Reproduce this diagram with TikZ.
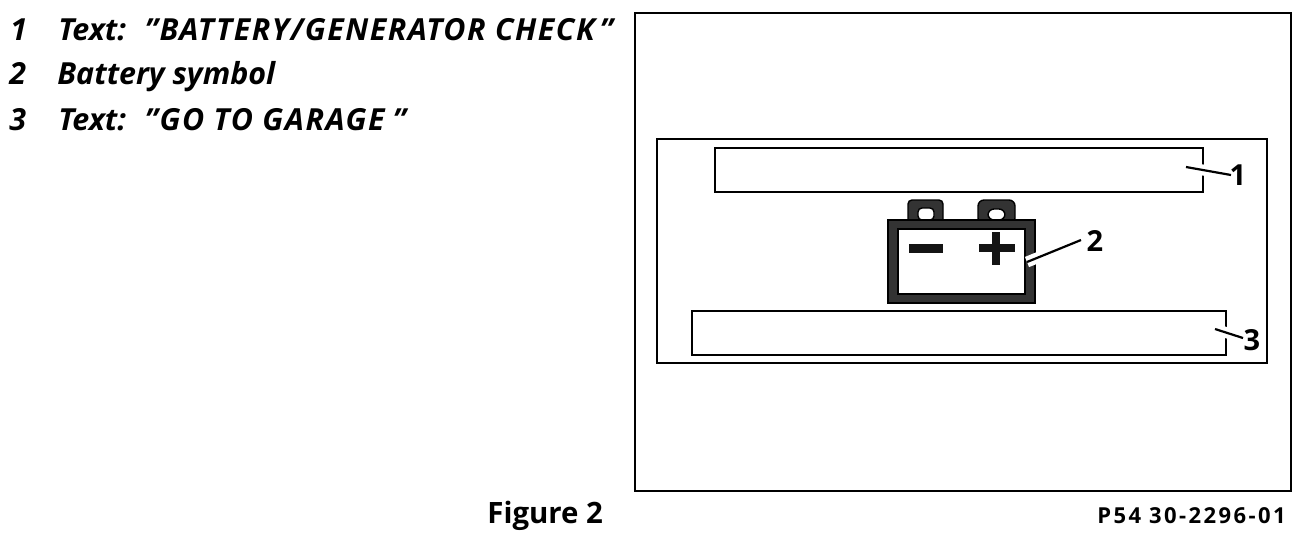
\documentclass[tikz,border=0pt]{standalone}
\usepackage{fontspec}
\setmainfont{Open Sans}
\tikzset{
  x=0.5pt,y=-0.5pt,
  frame/.style={draw=black,line width=1.4pt,fill=none,inner sep=0pt,outer sep=0pt},
  slot/.style={draw=black,line width=1.2pt,fill=none,inner sep=0pt,outer sep=0pt},
  band/.style={draw=black,line width=0.7pt,fill=black!80,inner sep=0pt,outer sep=0pt},
  hole/.style={draw=black,line width=0.7pt,fill=white,inner sep=0pt,outer sep=0pt},
  sign/.style={fill=black!92,draw=none,inner sep=0pt,outer sep=0pt},
  leader/.style={draw=black,line width=1.1pt,preaction={draw=white,line width=5.5pt}},
  callout/.style={inner sep=0pt,font=\fontsize{14.5pt}{16pt}\selectfont\bfseries},
  legend/.style={anchor=base west,inner sep=0pt,font=\fontsize{15.2pt}{17pt}\selectfont\bfseries\itshape},
  caption/.style={anchor=base west,inner sep=0pt,font=\fontsize{14.7pt}{16pt}\selectfont\bfseries},
  partno/.style={anchor=base east,inner sep=0pt,font=\fontsize{11pt}{12pt}\selectfont\bfseries\addfontfeature{LetterSpace=11}},
}
\newcommand{\boxat}[6]{\node[#2,anchor=north west,minimum width=#5*0.5pt-#3*0.5pt,minimum height=#6*0.5pt-#4*0.5pt] (#1) at (#3,#4) {};}
\newcommand{\capsp}[1]{{\addfontfeature{LetterSpace=5}#1}}
\begin{document}
\begin{tikzpicture}
\useasboundingbox (0,0) rectangle (1312,548);
% frames
\boxat{outer}{frame}{635}{13}{1291}{491}
\boxat{display}{frame}{657}{139}{1267}{363}
\boxat{slotA}{slot}{715}{148}{1203}{192}
\boxat{slotB}{slot}{692}{311}{1226}{355}
% battery
\draw[band,rounded corners=2pt] (908,224)--(908,200)--(943,200)--(943,224)--cycle;
\draw[band,rounded corners=3pt] (978,224)--(978,200)--(1015,200)--(1015,224)--cycle;
\draw[hole,rounded corners=2pt] (918,220)--(918,208)--(934,208)--(934,220)--cycle;
\draw[hole,rounded corners=3pt] (988,220)--(988,209)--(1005,209)--(1005,220)--cycle;
\boxat{batt}{band}{888}{220}{1035}{303}
\boxat{battin}{hole}{898}{229}{1025}{294}
\boxat{minus}{sign}{909}{244}{943}{253}
\boxat{plusH}{sign}{979}{244}{1015}{252}
\boxat{plusV}{sign}{992}{232}{1000}{265}
% callout numbers
\coordinate (a1) at (1186,167);
\coordinate (b1) at (1231,175);
\coordinate (a2) at (1027,262);
\coordinate (b2) at (1081,240);
\coordinate (a3) at (1215,329);
\coordinate (b3) at (1243,338);
\draw[leader] (a1) -- (b1);
\draw[leader] (a2) -- (b2);
\draw[leader] (a3) -- (b3);
\node[callout] (n1) at (1238,175) {1};
\node[callout] (n2) at (1095,241) {2};
\node[callout] (n3) at (1252,340) {3};
% legend
\node[legend] (l1n) at (10,40) {1};
\node[legend] (l1t) at (58,40) {Text:\; \capsp{"BATTERY/GENERATOR CHECK\,"}};
\node[legend] (l2n) at (9,84) {2};
\node[legend] (l2t) at (57,84) {Battery symbol};
\node[legend] (l3n) at (9,130) {3};
\node[legend] (l3t) at (58,130) {Text:\; \capsp{"GO TO GARAGE\;"}};
\node[caption] (fig) at (487,523) {Figure 2};
\node[partno] (pn) at (1286,523) {P54 30-2296-01};
\end{tikzpicture}
\end{document}
